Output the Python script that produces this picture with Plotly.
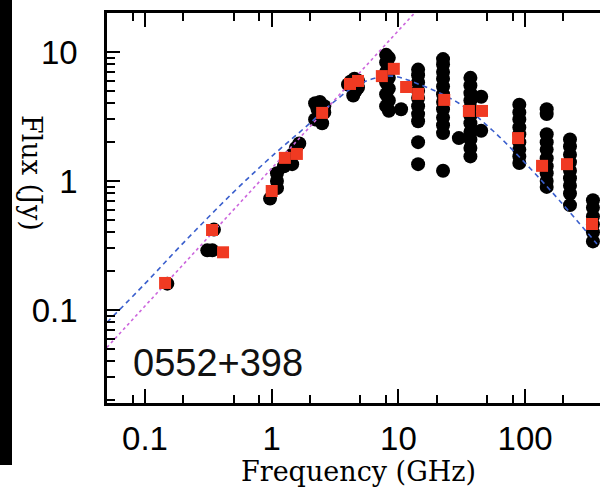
import plotly.graph_objects as go

# ---------------- data ----------------
# individual observations (black circles)
obs_freq = [0.15,
            0.31, 0.34, 0.35,
            0.97, 1.1, 1.1, 1.1,
            1.25, 1.35, 1.45, 1.45, 1.55, 1.65,
            2.2, 2.2, 2.3, 2.4, 2.4, 2.5, 2.6, 2.6,
            4.0, 4.2, 4.4, 4.5, 4.6, 4.8, 4.8,
            8.0, 8.0, 8.0, 8.0, 8.0, 8.0,
            8.4, 8.4, 8.4, 8.4, 8.4, 8.4, 10.5,
            14.3, 14.3, 14.3, 14.3, 14.3, 14.3, 14.3, 14.3, 14.3, 14.3,
            22.5, 22.5, 22.5, 22.5, 22.5, 22.5, 22.5, 22.5, 22.5, 22.5, 22.5, 22.5,
            37, 37, 37, 37, 37, 37, 37, 37, 37, 37, 37, 30, 45, 45,
            90, 90, 90, 90, 90, 90, 90, 90, 90,
            148, 148, 148, 148, 148, 148, 148, 148, 148, 148,
            226, 226, 226, 226, 226, 226, 226, 226, 226,
            343, 343, 343, 343, 343, 343]
obs_flux = [0.16,
            0.29, 0.29, 0.42,
            0.73, 1.15, 1.0, 0.88,
            1.3, 1.5, 1.6, 1.35, 1.8, 1.95,
            4.0, 3.0, 3.6, 3.2, 4.1, 2.8, 3.8, 3.4,
            5.6, 5.9, 4.6, 6.2, 5.0, 6.0, 5.3,
            9.5, 8.3, 7.0, 5.8, 4.7, 3.8,
            9.0, 7.6, 6.3, 5.2, 4.2, 3.5, 3.6,
            7.3, 6.6, 5.8, 5.0, 4.4, 3.8, 3.3, 2.9, 2.0, 1.35,
            8.8, 8.0, 7.0, 6.2, 5.4, 4.7, 4.1, 3.6, 3.1, 2.7, 2.35, 1.2,
            6.3, 5.5, 4.8, 4.2, 3.7, 3.2, 2.8, 2.4, 2.1, 1.8, 1.55, 2.15, 4.5, 2.45,
            3.9, 3.4, 3.0, 2.6, 2.3, 2.0, 1.75, 1.55, 1.38,
            3.6, 3.3, 2.3, 2.0, 1.75, 1.5, 1.3, 1.15, 1.0, 0.9,
            2.1, 1.85, 1.6, 1.4, 1.2, 1.05, 0.92, 0.8, 0.65,
            0.71, 0.62, 0.53, 0.46, 0.4, 0.34]

# averaged values (red squares)
mean_freq = [0.144, 0.338, 0.413, 1.0, 1.27, 1.58, 2.5, 4.15, 4.8, 7.4,
             9.2, 11.5, 14.3, 23, 36, 45.7, 88, 136, 214, 337]
mean_flux = [0.162, 0.417, 0.28, 0.836, 1.51, 1.62, 3.37, 5.65, 5.96, 6.5,
             7.4, 5.35, 4.73, 4.25, 3.49, 3.49, 2.15, 1.31, 1.35, 0.464]

# curved model (blue dashed)
model_freq = [0.05, 0.1, 0.2, 0.5, 1.0, 2.0, 3.0, 4.5, 6.5, 9.0, 14.0, 30.0, 56.0, 109, 188, 369]
model_flux = [0.08, 0.16, 0.33, 0.82, 1.55, 2.8, 4.0, 5.4, 6.25, 6.5, 5.7, 4.0, 2.44, 1.26, 0.70, 0.325]

# power law (magenta dotted)
pl_freq = [0.05, 13.2]
pl_flux = [0.0512, 19.7]

x_tickvals = [0.1, 1, 10, 100]
x_ticktext = ["0.1", "1", "10", "100"]
x_minorvals = [0.05, 0.08, 0.2, 0.5, 0.8, 2, 5, 8, 20, 50, 80, 200]
y_tickvals = [0.1, 1, 10]
y_ticktext = ["0.1", "1", "10"]
y_minorvals = [0.02, 0.03, 0.04, 0.05, 0.06, 0.07, 0.08, 0.09,
               0.2, 0.3, 0.4, 0.5, 0.6, 0.7, 0.8, 0.9,
               2, 3, 4, 5, 6, 7, 8, 9]

source_name = "0552+398"
x_title = "Frequency (GHz)"
y_title = "Flux (Jy)"

# ---------------- figure ----------------
W, H = 600, 488
L, R, T, B = 107, 0, 13, 85
pw, ph = W - L - R, H - T - B


def px_x(p):
    return (p - L) / pw


def px_y(p):
    return (H - B - p) / ph


fig = go.Figure()
fig.add_trace(go.Scatter(x=obs_freq, y=obs_flux, mode="markers",
                         marker=dict(symbol="circle", size=14, color="black",
                                     line=dict(width=0)),
                         showlegend=False, hoverinfo="x+y"))
fig.add_trace(go.Scatter(x=model_freq, y=model_flux, mode="lines",
                         line=dict(color="#3a5fcd", width=1.6, dash="5px,4px", shape="spline"),
                         showlegend=False))
fig.add_trace(go.Scatter(x=pl_freq, y=pl_flux, mode="lines",
                         line=dict(color="#cc66dd", width=1.6, dash="dot"),
                         showlegend=False))
fig.add_trace(go.Scatter(x=mean_freq, y=mean_flux, mode="markers",
                         marker=dict(symbol="square", size=12, color="#f03a22",
                                     line=dict(width=0)),
                         showlegend=False, hoverinfo="x+y"))

tickfont = dict(family="Liberation Sans, Arial, sans-serif", size=33, color="black")

fig.update_xaxes(type="log", range=[-1.300, 2.591],
                 tickmode="array", tickvals=x_tickvals, ticktext=x_ticktext,
                 ticks="inside", ticklen=14, tickwidth=1.5, tickcolor="black",
                 minor=dict(tickmode="array", tickvals=x_minorvals, ticks="inside",
                            ticklen=8, tickwidth=1.5, tickcolor="black"),
                 showline=True, linecolor="black", linewidth=2.5, mirror="ticks",
                 showgrid=False, zeroline=False, tickfont=tickfont,
                 ticklabelstandoff=5)
fig.update_yaxes(type="log", range=[-1.721, 1.302],
                 tickmode="array", tickvals=y_tickvals, ticktext=y_ticktext,
                 ticks="inside", ticklen=13, tickwidth=1.5, tickcolor="black",
                 minor=dict(tickmode="array", tickvals=y_minorvals, ticks="inside",
                            ticklen=8, tickwidth=1.5, tickcolor="black"),
                 showline=True, linecolor="black", linewidth=2.5, mirror=False,
                 showgrid=False, zeroline=False, tickfont=tickfont,
                 ticklabelstandoff=20)

serif = dict(family="DejaVu Serif, Georgia, serif", size=27, color="black")
fig.add_annotation(text=x_title, xref="paper", yref="paper",
                   x=px_x(358), y=px_y(488), xanchor="center", yanchor="bottom",
                   showarrow=False, font=serif, borderpad=0)
fig.add_annotation(text=y_title, xref="paper", yref="paper",
                   x=px_x(32), y=px_y(173), xanchor="center", yanchor="middle",
                   textangle=90, showarrow=False, font=serif)
fig.add_annotation(text=source_name, xref="paper", yref="paper",
                   x=px_x(218), y=px_y(363), xanchor="center", yanchor="middle",
                   showarrow=False,
                   font=dict(family="Liberation Sans, Arial, sans-serif", size=38, color="#111111"))

# black bar at the left edge of the picture
fig.add_shape(type="rect", xref="paper", yref="paper",
              x0=px_x(0), x1=px_x(12), y0=px_y(465), y1=px_y(0),
              fillcolor="black", line=dict(width=0), layer="above")

fig.update_layout(width=W, height=H, margin=dict(l=L, r=R, t=T, b=B),
                  paper_bgcolor="white", plot_bgcolor="white")

fig.write_html("out.html", config={"displayModeBar": False},
               post_script="document.body.style.margin='0px';document.body.style.overflow='hidden';")
